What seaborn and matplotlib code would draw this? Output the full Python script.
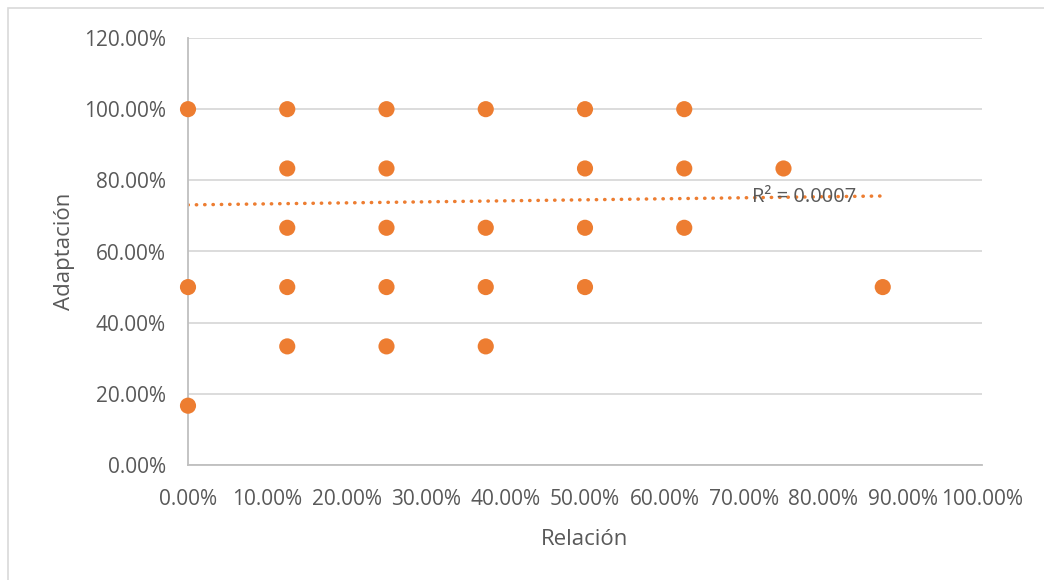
import matplotlib
matplotlib.use("Agg")
import matplotlib.pyplot as plt
from matplotlib.patches import Rectangle
from matplotlib.ticker import FuncFormatter
import seaborn as sns
import pandas as pd

# Observed pairs (Relación, Adaptación)
relacion = [0.0, 0.0, 0.0,
            0.125, 0.125, 0.125, 0.125, 0.125,
            0.25, 0.25, 0.25, 0.25, 0.25,
            0.375, 0.375, 0.375, 0.375,
            0.5, 0.5, 0.5, 0.5,
            0.625, 0.625, 0.625,
            0.75,
            0.875]
adaptacion = [1.0, 0.5, 1/6,
              1.0, 5/6, 4/6, 0.5, 2/6,
              1.0, 5/6, 4/6, 0.5, 2/6,
              1.0, 4/6, 0.5, 2/6,
              1.0, 5/6, 4/6, 0.5,
              1.0, 5/6, 4/6,
              5/6,
              0.5]

# Linear trendline endpoints and its fit statistic
trend_x = [0.0, 0.875]
trend_y = [0.731, 0.756]
r_squared = 0.0007

x_ticks = [0.0, 0.1, 0.2, 0.3, 0.4, 0.5, 0.6, 0.7, 0.8, 0.9, 1.0]
y_ticks = [0.0, 0.2, 0.4, 0.6, 0.8, 1.0, 1.2]

orange = "#ED7D31"
text_gray = "#595959"
grid_gray = "#D9D9D9"
axis_gray = "#BFBFBF"

sns.set_theme(style="white")
plt.rcParams["font.family"] = ["Open Sans", "DejaVu Sans"]

df = pd.DataFrame({"Relación": relacion, "Adaptación": adaptacion})

fig = plt.figure(figsize=(10.44, 5.80), dpi=100)
fig.patches.append(Rectangle((8 / 1044, -0.1), 1.5, 1 - 8 / 580 + 0.1,
                             transform=fig.transFigure, fill=False,
                             edgecolor="#D9D9D9", linewidth=1.2))
ax = fig.add_axes([188 / 1044, 1 - 465 / 580, (982 - 188) / 1044, (465 - 38) / 580])

ax.set_xlim(0, 1.0)
ax.set_ylim(0, 1.2)
ax.set_xticks(x_ticks)
ax.set_yticks(y_ticks)
pct = FuncFormatter(lambda v, _: f"{v * 100:.2f}%")
ax.xaxis.set_major_formatter(pct)
ax.yaxis.set_major_formatter(pct)

ax.grid(axis="y", color=grid_gray, linewidth=1.3)
ax.grid(axis="x", visible=False)
ax.set_axisbelow(True)

sns.lineplot(x=trend_x, y=trend_y, ax=ax, color=orange, linewidth=2.5,
             linestyle=(0, (0.1, 2.3)), dash_capstyle="round", zorder=2)

sns.scatterplot(data=df, x="Relación", y="Adaptación", ax=ax, color=orange,
                s=135, edgecolor="none", linewidth=0, zorder=3, clip_on=False)

ax.text(trend_x[1] - 0.099, trend_y[1] - 0.003, f"R² = {r_squared:.4f}",
        ha="center", va="center", fontsize=14.5, color=text_gray, zorder=4)

for side in ("top", "right"):
    ax.spines[side].set_visible(False)
for side in ("left", "bottom"):
    ax.spines[side].set_color(axis_gray)
    ax.spines[side].set_linewidth(1.3)

ax.tick_params(axis="both", length=0, labelsize=15, colors=text_gray)
ax.tick_params(axis="x", pad=17)
ax.tick_params(axis="y", pad=16)

ax.set_xlabel("Relación", fontsize=16, color=text_gray, labelpad=14)
ax.set_ylabel("Adaptación", fontsize=16, color=text_gray, labelpad=6)

fig.savefig("out.png", dpi=100, facecolor="white")
